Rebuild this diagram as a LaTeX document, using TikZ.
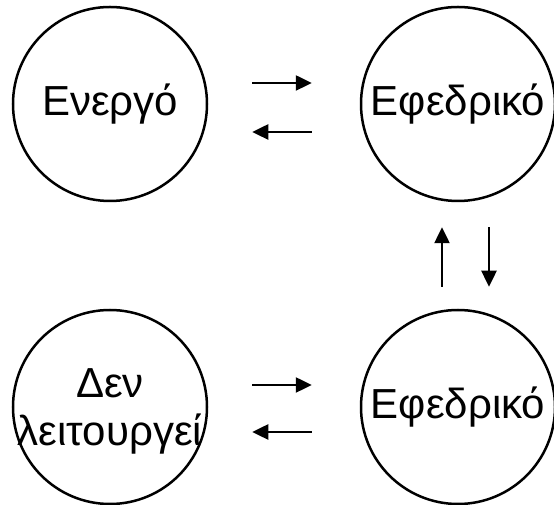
\documentclass[tikz,border=0pt]{standalone}
\usepackage{fontspec}
\setmainfont{Liberation Sans}
\usepackage{tikz}
\usetikzlibrary{arrows.meta, automata}

\begin{document}
\begin{tikzpicture}[>={Triangle[length=16pt,width=15pt]}, x=1pt, y=1pt,
                    line width=2.5pt]
\tikzstyle{every state}=[shape=circle, draw, line width=2.5pt,
                    inner sep=0pt, minimum size=194pt,
                    font=\fontsize{42}{48}\selectfont]
  \useasboundingbox (0,0) rectangle (554,505);
  \node[state] (active)  at (110,401) {Ενεργό};
  \node[state] (standby) at (458,401) {Εφεδρικό};
  \node[state] (spare)   at (458,98)  {Εφεδρικό};
  \node[state] (down)    at (110,98)
                 [label={[align=center, font=\fontsize{42}{48}\selectfont,
                          yshift=-4pt]center:Δεν\\λειτουργεί}] {};
  % horizontal pairs
  \draw[->, shorten <=44pt, shorten >=48pt]
        ([yshift=21pt]active.center -| active.east) -- ([yshift=21pt]standby.center -| standby.west);
  \draw[->, shorten <=48pt, shorten >=44pt]
        ([yshift=-28pt]standby.center -| standby.west) -- ([yshift=-28pt]active.center -| active.east);
  \draw[->, shorten <=44pt, shorten >=48pt]
        ([yshift=22pt]down.center -| down.east) -- ([yshift=22pt]spare.center -| spare.west);
  \draw[->, shorten <=48pt, shorten >=44pt]
        ([yshift=-25pt]spare.center -| spare.west) -- ([yshift=-25pt]down.center -| down.east);
  % vertical pair
  \draw[->, shorten <=22pt, shorten >=25pt]
        ([xshift=-16pt]spare.center |- spare.north) -- ([xshift=-16pt]standby.center |- standby.south);
  \draw[->, shorten <=25pt, shorten >=22pt]
        ([xshift=31pt]standby.center |- standby.south) -- ([xshift=31pt]spare.center |- spare.north);
\end{tikzpicture}
\end{document}
